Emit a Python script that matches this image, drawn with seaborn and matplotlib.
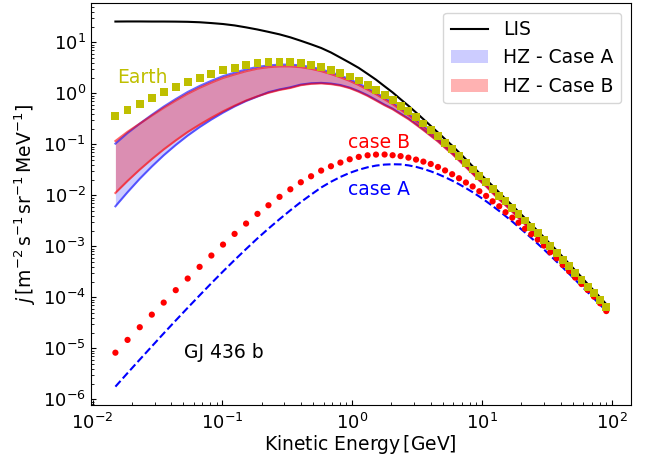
import matplotlib
matplotlib.use("Agg")
import matplotlib.pyplot as plt
import pandas as pd
import seaborn as sns
from matplotlib.lines import Line2D
from matplotlib.patches import Patch
from matplotlib.ticker import NullFormatter, FixedLocator

# Kinetic energy grid [GeV]
energy = [0.0150, 0.0186, 0.0231, 0.0286, 0.0353, 0.0437, 0.0540, 0.0667, 0.0822, 0.101,
          0.124, 0.152, 0.186, 0.226, 0.275, 0.333, 0.401, 0.481, 0.575, 0.684,
          0.809, 0.954, 1.12, 1.31, 1.52, 1.77, 2.04, 2.35, 2.70, 3.09,
          3.52, 4.01, 4.56, 5.17, 5.86, 6.62, 7.48, 8.43, 9.49, 10.7,
          12.0, 13.5, 15.1, 17.0, 19.0, 21.3, 23.8, 26.7, 29.8, 33.3,
          37.3, 41.6, 46.5, 51.9, 58.0, 64.7, 72.3, 80.7, 90.0]

# Local interstellar spectrum
lis = [25.5, 25.6, 25.6, 25.5, 25.5, 25.4, 25.2, 24.7, 23.8, 22.8,
       21.4, 19.6, 17.8, 16.0, 14.3, 12.5, 10.7, 9.12, 7.73, 6.31,
       5.00, 3.97, 3.14, 2.40, 1.85, 1.37, 1.04, 0.764, 0.569, 0.420,
       0.311, 0.229, 0.170, 0.126, 0.0942, 0.0692, 0.0507, 0.0369, 0.0272, 0.0203,
       0.0153, 0.0113, 8.47e-3, 6.35e-3, 4.75e-3, 3.56e-3, 2.67e-3, 2.00e-3, 1.50e-3, 1.12e-3,
       8.32e-4, 6.18e-4, 4.55e-4, 3.37e-4, 2.48e-4, 1.82e-4, 1.35e-4, 9.95e-5, 7.33e-5]

# Earth spectrum
earth = [0.352, 0.469, 0.615, 0.807, 1.045, 1.324, 1.656, 2.004, 2.399, 2.831,
         3.192, 3.581, 3.864, 4.046, 4.093, 4.046, 3.864, 3.581, 3.236, 2.864,
         2.506, 2.133, 1.786, 1.449, 1.178, 0.925, 0.738, 0.569, 0.442, 0.337,
         0.256, 0.191, 0.146, 0.108, 0.0813, 0.0596, 0.0437, 0.0321, 0.0237, 0.0180,
         0.0134, 9.86e-3, 7.59e-3, 5.69e-3, 4.27e-3, 3.20e-3, 2.40e-3, 1.79e-3, 1.35e-3, 1.00e-3,
         7.41e-4, 5.46e-4, 4.03e-4, 2.98e-4, 2.20e-4, 1.62e-4, 1.20e-4, 8.85e-5, 6.34e-5]

# Habitable zone bands
hz_a_high = [0.103, 0.166, 0.254, 0.378, 0.548, 0.771, 1.06, 1.39, 1.76, 2.17,
             2.54, 2.94, 3.29, 3.52, 3.65, 3.65, 3.52, 3.27, 2.95, 2.58,
             2.23, 1.88, 1.56, 1.26, 1.03, 0.815, 0.658, 0.513, 0.398, 0.303,
             0.231, 0.173, 0.132, 0.0975, 0.0733, 0.0537, 0.0398, 0.0293, 0.0216, 0.0164,
             0.0122, 9.00e-3, 6.92e-3, 5.19e-3, 3.89e-3, 2.92e-3, 2.19e-3, 1.64e-3, 1.23e-3, 9.12e-4,
             6.76e-4, 4.98e-4, 3.67e-4, 2.72e-4, 2.00e-4, 1.48e-4, 1.09e-4, 8.07e-5, 5.78e-5]

hz_a_low = [6.08e-3, 0.0115, 0.0211, 0.0366, 0.0608, 0.0968, 0.148, 0.217, 0.306, 0.417,
            0.552, 0.705, 0.863, 1.05, 1.19, 1.31, 1.48, 1.57, 1.60, 1.55,
            1.45, 1.29, 1.10, 0.912, 0.741, 0.597, 0.499, 0.398, 0.320, 0.249,
            0.194, 0.149, 0.116, 0.0869, 0.0661, 0.0490, 0.0363, 0.0269, 0.0199, 0.0152,
            0.0113, 8.39e-3, 6.46e-3, 4.86e-3, 3.65e-3, 2.75e-3, 2.06e-3, 1.55e-3, 1.16e-3, 8.65e-4,
            6.43e-4, 4.74e-4, 3.51e-4, 2.59e-4, 1.92e-4, 1.42e-4, 1.05e-4, 7.78e-5, 5.58e-5]

hz_b_high = [0.116, 0.176, 0.254, 0.365, 0.517, 0.719, 0.978, 1.28, 1.62, 2.00,
             2.34, 2.71, 3.04, 3.25, 3.37, 3.37, 3.25, 3.02, 2.72, 2.38,
             2.06, 1.75, 1.45, 1.18, 0.961, 0.760, 0.614, 0.479, 0.371, 0.283,
             0.216, 0.165, 0.126, 0.0931, 0.0700, 0.0513, 0.0380, 0.0280, 0.0206, 0.0157,
             0.0117, 8.79e-3, 6.76e-3, 5.07e-3, 3.80e-3, 2.85e-3, 2.14e-3, 1.60e-3, 1.20e-3, 8.91e-4,
             6.60e-4, 4.87e-4, 3.59e-4, 2.66e-4, 1.95e-4, 1.45e-4, 1.06e-4, 7.88e-5, 5.65e-5]

hz_b_low = [0.0111, 0.0191, 0.0319, 0.0511, 0.0792, 0.119, 0.174, 0.243, 0.332, 0.442,
            0.571, 0.721, 0.873, 1.02, 1.16, 1.27, 1.44, 1.53, 1.56, 1.51,
            1.41, 1.26, 1.07, 0.887, 0.721, 0.581, 0.486, 0.387, 0.311, 0.242,
            0.189, 0.146, 0.113, 0.0849, 0.0646, 0.0479, 0.0355, 0.0263, 0.0194, 0.0149,
            0.0110, 8.20e-3, 6.31e-3, 4.75e-3, 3.57e-3, 2.69e-3, 2.01e-3, 1.51e-3, 1.13e-3, 8.45e-4,
            6.28e-4, 4.63e-4, 3.43e-4, 2.53e-4, 1.88e-4, 1.39e-4, 1.03e-4, 7.60e-5, 5.45e-5]

# GJ 436 b
case_a = [1.77e-6, 3.27e-6, 6.01e-6, 1.09e-5, 1.96e-5, 3.51e-5, 6.22e-5, 1.09e-4, 1.89e-4, 3.21e-4,
          5.38e-4, 8.83e-4, 1.43e-3, 2.22e-3, 3.40e-3, 5.07e-3, 7.36e-3, 1.03e-2, 1.42e-2, 1.84e-2,
          2.29e-2, 2.75e-2, 3.17e-2, 3.54e-2, 3.82e-2, 4.00e-2, 4.06e-2, 4.03e-2, 3.86e-2, 3.61e-2,
          3.29e-2, 2.95e-2, 2.60e-2, 2.26e-2, 1.94e-2, 1.65e-2, 1.38e-2, 1.15e-2, 9.44e-3, 7.64e-3,
          6.17e-3, 4.91e-3, 3.91e-3, 3.06e-3, 2.40e-3, 1.87e-3, 1.46e-3, 1.12e-3, 8.67e-4, 6.61e-4,
          5.01e-4, 3.84e-4, 2.91e-4, 2.20e-4, 1.66e-4, 1.26e-4, 9.46e-5, 7.13e-5, 5.38e-5]

case_b = [8.20e-6, 1.46e-5, 2.59e-5, 4.57e-5, 7.87e-5, 1.38e-4, 2.33e-4, 3.95e-4, 6.59e-4, 1.08e-3,
          1.75e-3, 2.79e-3, 4.32e-3, 6.37e-3, 9.31e-3, 1.31e-2, 1.80e-2, 2.36e-2, 3.05e-2, 3.71e-2,
          4.38e-2, 5.08e-2, 5.66e-2, 6.08e-2, 6.28e-2, 6.30e-2, 6.10e-2, 5.86e-2, 5.47e-2, 5.01e-2,
          4.57e-2, 4.11e-2, 3.59e-2, 3.07e-2, 2.59e-2, 2.16e-2, 1.78e-2, 1.49e-2, 1.20e-2, 9.72e-3,
          7.62e-3, 6.09e-3, 4.65e-3, 3.64e-3, 2.90e-3, 2.21e-3, 1.72e-3, 1.35e-3, 1.03e-3, 7.62e-4,
          5.82e-4, 4.30e-4, 3.24e-4, 2.43e-4, 1.82e-4, 1.39e-4, 1.03e-4, 7.62e-5, 5.37e-5]

# decade tick positions
x_ticks = [1e-2, 1e-1, 1e0, 1e1, 1e2]
y_ticks = [1e-6, 1e-5, 1e-4, 1e-3, 1e-2, 1e-1, 1e0, 1e1]

df = pd.DataFrame({
    'energy': energy, 'lis': lis, 'earth': earth,
    'hz_a_low': hz_a_low, 'hz_a_high': hz_a_high,
    'hz_b_low': hz_b_low, 'hz_b_high': hz_b_high,
    'case_a': case_a, 'case_b': case_b,
})

plt.rcParams['font.size'] = 13.5

fig, ax = plt.subplots(figsize=(6.49, 4.57), dpi=100)
fig.subplots_adjust(left=0.140, right=0.972, bottom=0.114, top=0.993)
ax.set_xscale('log')
ax.set_yscale('log')

# HZ bands
ax.fill_between(df['energy'], df['hz_a_low'], df['hz_a_high'], color='b', alpha=0.2, lw=0)
ax.fill_between(df['energy'], df['hz_b_low'], df['hz_b_high'], color='r', alpha=0.3, lw=0)
for col, c in [('hz_a_low', 'b'), ('hz_a_high', 'b'), ('hz_b_low', 'r'), ('hz_b_high', 'r')]:
    sns.lineplot(data=df, x='energy', y=col, color=c, alpha=0.6, lw=1.5, ax=ax)

sns.lineplot(data=df, x='energy', y='lis', color='k', lw=1.5, ax=ax)
sns.lineplot(data=df, x='energy', y='case_a', color='b', lw=1.5, linestyle='--', ax=ax)
sns.scatterplot(data=df, x='energy', y='case_b', color='r', marker='o', s=20,
                edgecolor='none', ax=ax, zorder=3)
sns.scatterplot(data=df, x='energy', y='earth', color='y', marker='s', s=32,
                edgecolor='none', ax=ax, zorder=4)

# labels on the curves
ax.text(0.0155, 2.0, 'Earth', color='y', va='center', ha='left')
ax.text(0.92, 0.11, 'case B', color='r', va='center', ha='left')
ax.text(0.92, 0.0129, 'case A', color='b', va='center', ha='left')
ax.text(0.051, 8.1e-6, 'GJ 436 b', color='k', va='center', ha='left')

ax.set_xlabel(r'Kinetic Energy$\,$[GeV]', labelpad=0)
ax.set_ylabel(r'$j\,[\mathrm{m^{-2}\,s^{-1}\,sr^{-1}\,MeV^{-1}}]$')
ax.xaxis.set_major_locator(FixedLocator(x_ticks))
ax.yaxis.set_major_locator(FixedLocator(y_ticks))
ax.xaxis.set_minor_formatter(NullFormatter())
ax.yaxis.set_minor_formatter(NullFormatter())
ax.tick_params(which='both', direction='in', labelsize=13)
ax.tick_params(axis='x', which='major', pad=6)

handles = [Line2D([], [], color='k', lw=1.5),
           Patch(facecolor='b', alpha=0.2, lw=0),
           Patch(facecolor='r', alpha=0.3, lw=0)]
ax.legend(handles, ['LIS', 'HZ - Case A', 'HZ - Case B'], loc='upper right')

fig.savefig('out.png', dpi=100)
